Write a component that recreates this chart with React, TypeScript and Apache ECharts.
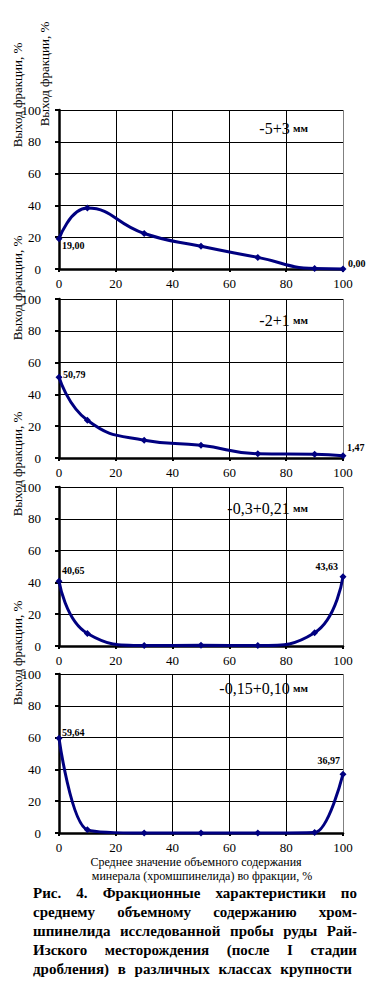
import React, { useEffect, useRef } from "react";
import * as echarts from "echarts";

// ---- data ----
const xValues = [0, 10, 30, 50, 70, 90, 100];
const yield1 = [19.0, 38.3, 22.3, 14.3, 7.3, 0.3, 0.0];
const yield2 = [50.79, 23.7, 11.2, 8.0, 2.7, 2.4, 1.47];
const yield3 = [40.65, 7.9, 0.3, 0.4, 0.3, 8.3, 43.63];
const yield4 = [59.64, 2.0, 0.0, 0.0, 0.0, 0.3, 36.97];
const seriesValues = [yield1, yield2, yield3, yield4];
const classNames = ["-5+3", "-2+1", "-0,3+0,21", "-0,15+0,10"];
const unitName = "мм";
const yTitle = "Выход фракции, %";
const xTitleLines = [
  "Среднее значение объемного содержания",
  "минерала (хромшпинелида) во фракции, %",
];
const captionLines = [
  "Рис. 4. Фракционные характеристики по",
  "среднему объемному содержанию хром-",
  "шпинелида исследованной пробы руды Рай-",
  "Изского месторождения (после I стадии",
  "дробления) в различных классах крупности",
];

// ---- layout / style ----
const SERIF = "Liberation Serif";
const NAVY = "#000080";
const gridTops = [110, 299, 487, 674];
const gridLeft = 59;
const gridWidth = 284;
const gridHeight = 159;
const classLabelY = [128, 320, 508, 688];
const smoothness = [0.5, 0.5, 0.5, 0.3];
// per panel: [first label, last label] => [align, dx, dy]
const endLabelStyles: [string, number, number][][] = [
  [["left", 3, 7], ["left", 5, -6]],
  [["left", 4, -3], ["left", 4, -8]],
  [["left", 3, -11], ["right", -5, -10]],
  [["left", 3, -6], ["right", -3, -14]],
];
const yTitlePos = [
  [44, 74],
  [17, 95],
  [17, 288],
  [17, 464],
  [17, 653],
];

function fmt(v: number) {
  return v.toFixed(2).replace(".", ",");
}

export default function App() {
  const ref = useRef<HTMLDivElement>(null);
  useEffect(() => {
    if (!ref.current) return;
    const chart = echarts.init(ref.current, undefined, { renderer: "svg" });

    const grids: any[] = [];
    const xAxes: any[] = [];
    const yAxes: any[] = [];
    const series: any[] = [];
    const graphics: any[] = [];

    seriesValues.forEach((vals, i) => {
      grids.push({
        left: gridLeft,
        top: gridTops[i],
        width: gridWidth,
        height: gridHeight,
        containLabel: false,
      });
      xAxes.push({
        type: "value",
        gridIndex: i,
        min: 0,
        max: 100,
        interval: 20,
        axisLine: { show: true, lineStyle: { color: "#000", width: 2.5 } },
        axisTick: { show: true, length: 3, lineStyle: { color: "#000", width: 2 } },
        axisLabel: { color: "#000", fontFamily: SERIF, fontSize: 13, margin: 8 },
        splitLine: {
          show: true,
          lineStyle: {
            color: ["#000", "#000", "#000", "#000", "#000", "#808080"],
            width: 1,
          },
        },
      });
      yAxes.push({
        type: "value",
        gridIndex: i,
        min: 0,
        max: 100,
        interval: 20,
        axisLine: { show: true, lineStyle: { color: "#000", width: 2.5 } },
        axisTick: { show: true, length: 4, lineStyle: { color: "#000", width: 2 } },
        axisLabel: { color: "#000", fontFamily: SERIF, fontSize: 13, margin: 18 },
        splitLine: { show: true, lineStyle: { color: "#000", width: 1 } },
      });
      const last = vals.length - 1;
      series.push({
        type: "line",
        xAxisIndex: i,
        yAxisIndex: i,
        smooth: smoothness[i],
        clip: false,
        symbol: "diamond",
        symbolSize: 7,
        lineStyle: { color: NAVY, width: 3 },
        itemStyle: { color: NAVY },
        label: { show: false },
        data: xValues.map((x, j) => {
          const item: any = { value: [x, vals[j]] };
          if (j === 0 || j === last) {
            const st = endLabelStyles[i][j === 0 ? 0 : 1];
            item.label = {
              show: true,
              position: "inside",
              align: st[0],
              verticalAlign: "middle",
              offset: [st[1], st[2]],
              fontFamily: SERIF,
              fontSize: 10,
              fontWeight: "bold",
              color: "#000",
              formatter: () => fmt(vals[j]),
            };
          }
          return item;
        }),
      });
      graphics.push({
        type: "text",
        x: 308,
        y: classLabelY[i],
        style: {
          text: `{a|${classNames[i]}} {b|${unitName}}`,
          align: "right",
          verticalAlign: "middle",
          rich: {
            a: { fontFamily: SERIF, fontSize: 16, fill: "#000" },
            b: { fontFamily: SERIF, fontSize: 11, fontWeight: "bold", fill: "#000" },
          },
        },
      });
    });

    yTitlePos.forEach(([x, y]) => {
      graphics.push({
        type: "text",
        x,
        y,
        rotation: Math.PI / 2,
        style: {
          text: yTitle,
          fontFamily: SERIF,
          fontSize: 13,
          fill: "#000",
          align: "center",
          verticalAlign: "middle",
        },
      });
    });

    const xTitleX = [196, 202];
    const xTitleY = [862, 876];
    xTitleLines.forEach((t, k) => {
      graphics.push({
        type: "text",
        x: xTitleX[k],
        y: xTitleY[k],
        style: {
          text: t,
          fontFamily: SERIF,
          fontSize: 12,
          fill: "#000",
          align: "center",
          verticalAlign: "middle",
        },
      });
    });

    // justified caption
    const canvas = document.createElement("canvas");
    const ctx = canvas.getContext("2d")!;
    ctx.font = "bold 15px Liberation Serif";
    const capLeft = 33;
    const capRights = [357, 357, 357, 357, 352];
    captionLines.forEach((line, k) => {
      const words = line.split(" ");
      const widths = words.map((w) => ctx.measureText(w).width);
      const total = widths.reduce((a, b) => a + b, 0);
      const gap = words.length > 1 ? (capRights[k] - capLeft - total) / (words.length - 1) : 0;
      let cx = capLeft;
      words.forEach((w, wi) => {
        graphics.push({
          type: "text",
          x: cx,
          y: 893 + k * 19,
          style: {
            text: w,
            fontFamily: SERIF,
            fontSize: 15,
            fontWeight: "bold",
            fill: "#000",
            align: "left",
            verticalAlign: "middle",
          },
        });
        cx += widths[wi] + gap;
      });
    });

    chart.setOption({
      animation: false,
      backgroundColor: "#fff",
      grid: grids,
      xAxis: xAxes,
      yAxis: yAxes,
      series,
      graphic: graphics,
    });
    return () => chart.dispose();
  }, []);
  return (
    <div
      ref={ref}
      style={{ position: "absolute", left: 0, top: 0, width: 387, height: 992 }}
    />
  );
}
